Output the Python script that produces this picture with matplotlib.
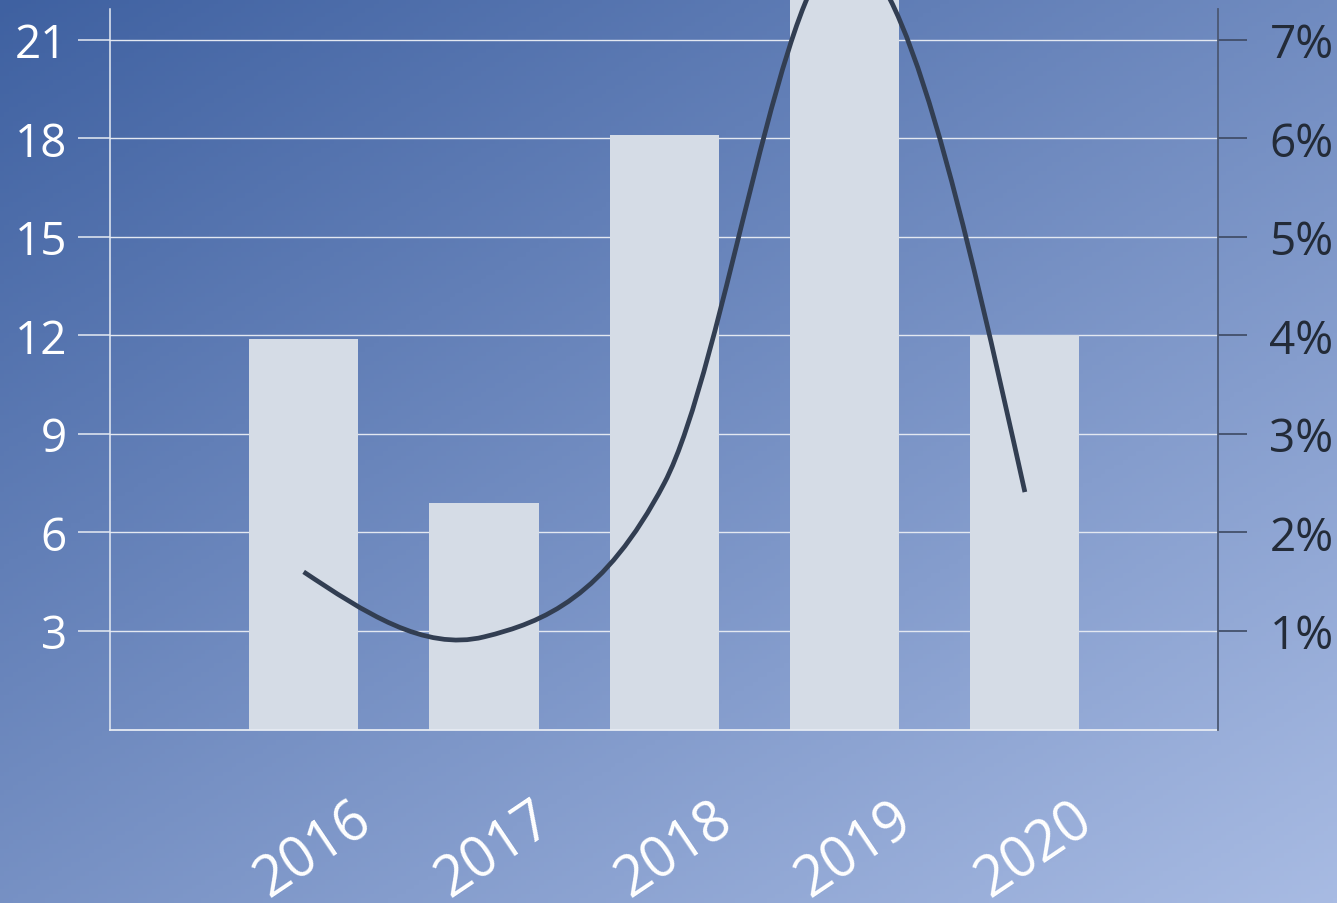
import numpy as np
import matplotlib
matplotlib.use("Agg")
import matplotlib.pyplot as plt
from matplotlib.path import Path
from matplotlib.patches import PathPatch
from matplotlib.transforms import ScaledTranslation

plt.rcParams['font.family'] = ['Open Sans', 'DejaVu Sans']

years = ["2016", "2017", "2018", "2019", "2020"]
bar_values = [11.9, 6.9, 18.1, 23.0, 12.0]
rate_values = [1.6, 0.94, 2.5, 7.9, 2.41]   # percent, right axis

left_ticks = [3, 6, 9, 12, 15, 18, 21]
right_ticks = [1, 2, 3, 4, 5, 6, 7]
right_labels = ["1%", "2%", "3%", "4%", "5%", "6%", "7%"]

W, H = 1337, 904
fig = plt.figure(figsize=(W / 100, H / 100), dpi=100)

# background gradient
bg = fig.add_axes([0, 0, 1, 1], zorder=-10)
gx, gy = np.meshgrid(np.linspace(0, 1, 300), np.linspace(0, 1, 200))
t = 0.47 * gx + 0.53 * gy
c0 = np.array([63, 97, 161]) / 255
c1 = np.array([168, 187, 227]) / 255
grad = c0 + (c1 - c0) * t[..., None]
bg.imshow(grad, aspect='auto', extent=[0, 1, 1, 0])
bg.set_xlim(0, 1)
bg.set_ylim(1, 0)
bg.axis('off')

ax = fig.add_axes([110 / W, (H - 730.5) / H, 1108 / W, 720.5 / H])
ax.patch.set_alpha(0)
x = np.arange(len(years))

ax.set_axisbelow(True)
ax.grid(axis='y', color='#e3e8f1', lw=1.0)
ax.bar(x, bar_values, width=0.605, color='#d5dce6', zorder=2, clip_on=False)

ax.set_xlim(-1.074, 5.071)
ax.set_ylim(0, 21.94)
ax.set_yticks(left_ticks)
ax.tick_params(axis='y', colors='#e6ebf3', labelcolor='white',
               length=23, width=1.1, pad=8, labelsize=33)
ax.set_xticks(x)
ax.set_xticklabels(years)
ax.tick_params(axis='x', length=0, pad=87, labelsize=40, labelcolor='white')
shift = ScaledTranslation(10 / 100, 0, fig.dpi_scale_trans)
for lab in ax.get_xticklabels():
    lab.set_rotation(34)
    lab.set_ha('center')
    lab.set_va('center')
    lab.set_rotation_mode('anchor')
    lab.set_transform(lab.get_transform() + shift)

for side in ['top', 'right']:
    ax.spines[side].set_visible(False)
ax.spines['left'].set_color('#e6ebf3')
ax.spines['bottom'].set_color('#e6ebf3')
ax.spines['left'].set_linewidth(1.1)
ax.spines['bottom'].set_linewidth(1.3)

# right axis with the smoothed rate line
ax2 = ax.twinx()
ax2.set_ylim(0, 21.94 / 3)
ax2.set_yticks(right_ticks)
ax2.set_yticklabels(right_labels)
ax2.tick_params(axis='y', colors='#3d4962', labelcolor='#232b38',
                length=21, width=1.2, pad=16, labelsize=33)
for side in ['top', 'left', 'bottom']:
    ax2.spines[side].set_visible(False)
ax2.spines['right'].set_color('#4b5873')
ax2.spines['right'].set_linewidth(1.3)

# smooth curve: catmull-rom tangents inside, natural ends, as cubic beziers
y = np.array(rate_values)
n = len(y)
s = np.zeros(n)
s[1:-1] = (y[2:] - y[:-2]) / 2
s[0] = (3 * (y[1] - y[0]) - s[1]) / 2
s[-1] = (3 * (y[-1] - y[-2]) - s[-2]) / 2
verts = [(x[0], y[0])]
codes = [Path.MOVETO]
for i in range(n - 1):
    verts += [(x[i] + 1 / 3, y[i] + s[i] / 3),
              (x[i + 1] - 1 / 3, y[i + 1] - s[i + 1] / 3),
              (x[i + 1], y[i + 1])]
    codes += [Path.CURVE4] * 3
ax2.add_patch(PathPatch(Path(verts, codes), fill=False, edgecolor='#323e52',
                        lw=3.4, clip_on=False, zorder=3))

fig.savefig("out.png", dpi=100)
